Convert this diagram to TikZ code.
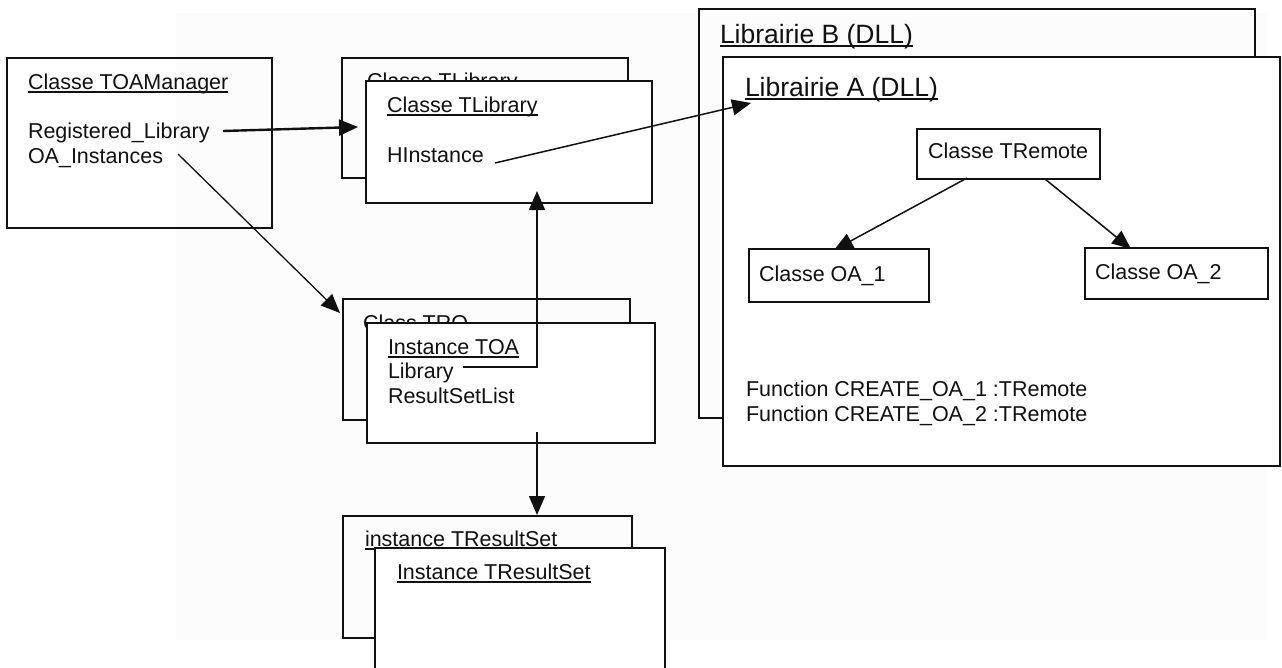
\documentclass[tikz,border=0pt]{standalone}
\usepackage{fontspec}
\setmainfont{Liberation Sans}
\usetikzlibrary{arrows.meta}
\definecolor{bgc}{RGB}{252,252,252}
\definecolor{ink}{RGB}{17,17,17}
\newcommand\myul[1]{\setbox0\hbox{#1}\rlap{\rule[-3.8pt]{\wd0}{1.6pt}}\box0}
\begin{document}
\begin{tikzpicture}[x=1pt,y=-1pt,
  every node/.style={font=\fontsize{21.5}{26}\selectfont, inner sep=0pt, outer sep=0pt, text=ink},
  lbl/.style={anchor=base west},
  big/.style={font=\fontsize{26.5}{31}\selectfont},
  box/.style={draw=ink, line width=1.6pt, anchor=north west, inner sep=0pt, outer sep=0pt},
  frontbox/.style={box, fill=white},
  conn/.style={draw=ink, line width=1.5pt, -{Triangle[length=19pt,width=16pt]}},
]
\useasboundingbox (0,0) rectangle (1282,667);
\clip (0,0) rectangle (1282,667);
\fill[white] (0,0) rectangle (1282,667);
\fill[bgc] (176,13) rectangle (1267,640);

% manager
\node[box, minimum width=265pt, minimum height=170pt] (mgr) at (7,58) {};
\node[lbl] (tmgr) at (28,89) {\myul{Classe TOAManager}};
\node[lbl] (treg) at (28,138) {Registered\_Library};
\node[lbl] (toai) at (28,163) {OA\_Instances};

% TLibrary
\node[box, minimum width=286pt, minimum height=120pt] (tlibB) at (342,58) {};
\node[lbl] (tlibBt) at (367,88) {Classe TLibrary};
\node[frontbox, minimum width=286pt, minimum height=122pt] (tlibF) at (366,81) {};
\node[lbl] (tlibFt) at (387,112) {\myul{Classe TLibrary}};
\node[lbl] (thinst) at (387,162) {HInstance};

% TRO / TOA
\node[box, minimum width=287pt, minimum height=121pt] (troB) at (343,299) {};
\node[lbl] (troBt) at (363,330) {Class TRO};
\node[frontbox, minimum width=288pt, minimum height=120pt] (toaF) at (367,323) {};
\node[lbl] (ttoa) at (388,354) {\myul{Instance TOA}};
\node[lbl] (tlib) at (388,378) {Library};
\node[lbl] (trsl) at (388,403) {ResultSetList};

% ResultSet
\node[box, minimum width=289pt, minimum height=122pt] (rsB) at (343,516) {};
\node[lbl] (trsB) at (365,546) {\myul{instance TResultSet}};
\node[frontbox, minimum width=290pt, minimum height=130pt] (rsF) at (375,548) {};
\node[lbl] (trsF) at (397,579) {\myul{Instance TResultSet}};

% Libraries
\node[box, minimum width=556pt, minimum height=409pt] (libB) at (699,9) {};
\node[lbl, big] (tlibBn) at (720,43) {\myul{Librairie B (DLL)}};
\node[frontbox, minimum width=557pt, minimum height=409pt] (libA) at (723,57) {};
\node[lbl, big] (tlibAn) at (745,96) {\myul{Librairie A (DLL)}};

\node[box, minimum width=183pt, minimum height=50pt] (trem) at (917,129) {};
\node[lbl] (ttrem) at (928,158) {Classe TRemote};
\node[box, minimum width=180pt, minimum height=53pt] (oa1) at (749,249) {};
\node[lbl] (toa1) at (759,281) {Classe OA\_1};
\node[box, minimum width=183pt, minimum height=51pt] (oa2) at (1085,248) {};
\node[lbl] (toa2) at (1095,279) {Classe OA\_2};
\node[lbl] (tf1) at (746,396) {Function CREATE\_OA\_1 :TRemote};
\node[lbl] (tf2) at (746,421) {Function CREATE\_OA\_2 :TRemote};

% connector end points
\coordinate (regS) at (223,131);
\coordinate (regE) at (358,127);
\coordinate (oaiS) at (178,154);
\coordinate (oaiE) at (340,313);
\coordinate (hinS) at (495,163);
\coordinate (hinE) at (751,103);
\coordinate (libS) at (463,367);
\coordinate (libM) at (537,367);
\coordinate (libE) at (537,191);
\coordinate (rsS) at (537,432);
\coordinate (rsE) at (537,515);
\coordinate (t1S) at (967,178);
\coordinate (t1E) at (834,250);
\coordinate (t2S) at (1045,179);
\coordinate (t2E) at (1131,249);

\draw[conn, line width=2.4pt] (regS) -- (regE);
\draw[conn, line width=1.3pt] (oaiS) -- (oaiE);
\draw[conn] (hinS) -- (hinE);
\draw[conn] (libS) -- (libM) -- (libE);
\draw[conn] (rsS) -- (rsE);
\draw[conn] (t1S) -- (t1E);
\draw[conn] (t2S) -- (t2E);
\end{tikzpicture}
\end{document}
